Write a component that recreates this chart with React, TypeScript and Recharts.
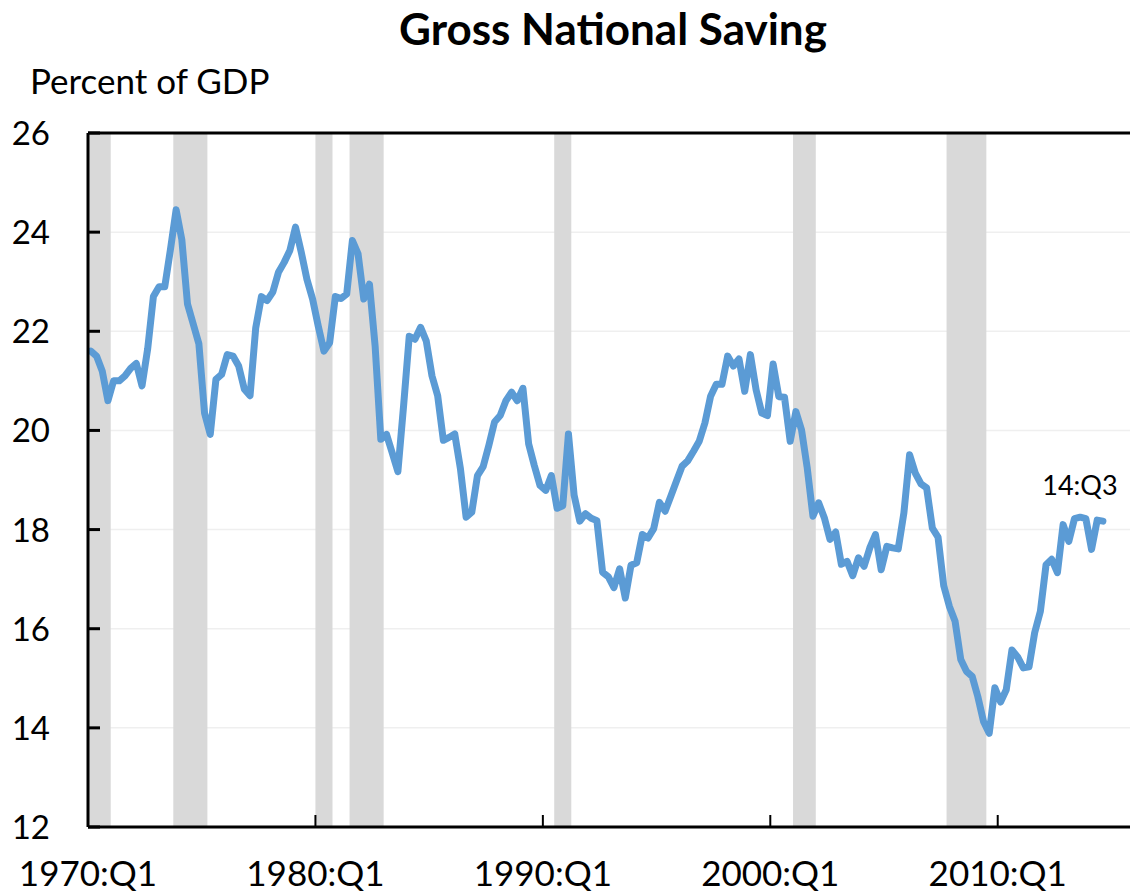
import {
  ComposedChart,
  Line,
  XAxis,
  YAxis,
  CartesianGrid,
  ReferenceArea,
  ReferenceLine,
} from "recharts";

const START_YEAR = 1970;

// gross national saving, percent of GDP, quarterly from 1970:Q1
const saving1970s = [
  21.6, 21.5, 21.2, 20.6, 21.0, 21.0, 21.1, 21.25, 21.35, 20.9,
  21.65, 22.7, 22.9, 22.9, 23.65, 24.45, 23.85, 22.55, 22.15, 21.75,
  20.35, 19.92, 21.03, 21.13, 21.53, 21.5, 21.3, 20.83, 20.7, 22.07,
  22.7, 22.62, 22.79, 23.19, 23.39, 23.63, 24.1, 23.6, 23.05, 22.65,
];
const saving1980s = [
  22.1, 21.6, 21.77, 22.7, 22.66, 22.75, 23.83, 23.56, 22.65, 22.95,
  21.7, 19.82, 19.92, 19.55, 19.17, 20.49, 21.9, 21.84, 22.08, 21.8,
  21.1, 20.7, 19.8, 19.86, 19.93, 19.23, 18.25, 18.35, 19.09, 19.27,
  19.7, 20.17, 20.3, 20.6, 20.77, 20.6, 20.85, 19.73, 19.29, 18.89,
];
const saving1990s = [
  18.79, 19.09, 18.43, 18.48, 19.93, 18.69, 18.17, 18.32, 18.23, 18.18,
  17.14, 17.05, 16.83, 17.21, 16.62, 17.28, 17.33, 17.9, 17.83, 18.02,
  18.55, 18.37, 18.67, 18.98, 19.28, 19.39, 19.58, 19.78, 20.15, 20.69,
  20.93, 20.93, 21.5, 21.3, 21.44, 20.79, 21.53, 20.82, 20.35, 20.3,
];
const saving2000s = [
  21.34, 20.68, 20.67, 19.78, 20.38, 20.01, 19.24, 18.27, 18.54, 18.24,
  17.8, 17.95, 17.3, 17.36, 17.07, 17.43, 17.26, 17.63, 17.9, 17.19,
  17.66, 17.63, 17.61, 18.34, 19.51, 19.14, 18.92, 18.84, 18.03, 17.85,
  16.87, 16.45, 16.15, 15.38, 15.14, 15.04, 14.63, 14.13, 13.89, 14.81,
];
const saving2010s = [
  14.52, 14.77, 15.57, 15.43, 15.21, 15.23, 15.92, 16.35, 17.29, 17.4,
  17.13, 18.1, 17.76, 18.22, 18.25, 18.22, 17.6, 18.19, 18.17,
];

const recessions = [
  ["1970:Q1", "1970:Q4"],
  ["1973:Q4", "1975:Q1"],
  ["1980:Q1", "1980:Q3"],
  ["1981:Q3", "1982:Q4"],
  ["1990:Q3", "1991:Q1"],
  ["2001:Q1", "2001:Q4"],
  ["2007:Q4", "2009:Q2"],
];

const xTickLabels = ["1970:Q1", "1980:Q1", "1990:Q1", "2000:Q1", "2010:Q1"];
const yTicks = [12, 14, 16, 18, 20, 22, 24, 26];
const lastLabel = "14:Q3";

const FONT = "Lato, 'Open Sans', sans-serif";

const quarterIndex = (label: string) => {
  const [y, q] = label.split(":Q");
  return (Number(y) - START_YEAR) * 4 + Number(q) - 1;
};

const values = [...saving1970s, ...saving1980s, ...saving1990s, ...saving2000s, ...saving2010s];
const data = values.map((value, i) => ({ q: i, value }));

const XTick = ({ x, y, payload }: any) => {
  const idx = xTickLabels.findIndex((l) => quarterIndex(l) - 0.5 === payload.value);
  return (
    <g>
      <line x1={x} x2={x} y1={y} y2={y - 12} stroke="#000" strokeWidth={2} />
      <text x={x} y={y + 59} textAnchor="middle" fontSize={35} fontFamily={FONT} fill="#000">
        {xTickLabels[idx]}
      </text>
    </g>
  );
};

const YTick = ({ x, y, payload }: any) => (
  <g>
    <line x1={x} x2={x + 12} y1={y} y2={y} stroke="#000" strokeWidth={3} />
    <text x={x - 38} y={y + 12} textAnchor="end" fontSize={33} fontFamily={FONT} fill="#000">
      {payload.value}
    </text>
  </g>
);

const EndLabel = (props: any) => {
  const { x, y, index } = props;
  if (index !== data.length - 1) return null;
  return (
    <text x={x - 23} y={y - 26} textAnchor="middle" fontSize={27} fontFamily={FONT} fill="#000">
      {lastLabel}
    </text>
  );
};

export default function App() {
  return (
    <div
      style={{
        position: "absolute",
        left: 0,
        top: 0,
        width: 1130,
        height: 892,
        overflow: "hidden",
        background: "#fff",
        fontFamily: FONT,
      }}
    >
      <div
        style={{
          position: "absolute",
          left: 0,
          width: 1226,
          top: 2,
          textAlign: "center",
          fontSize: 44,
          fontWeight: 700,
          lineHeight: "52px",
        }}
      >
        Gross National Saving
      </div>
      <div style={{ position: "absolute", left: 30, top: 58, fontSize: 35, lineHeight: "44px" }}>
        Percent of GDP
      </div>
      <ComposedChart
        width={1170}
        height={892}
        data={data}
        margin={{ top: 133, right: 0, bottom: 0, left: 0 }}
      >
        <CartesianGrid vertical={false} stroke="#efefef" strokeWidth={1.5} />
        {recessions.map(([a, b]) => (
          <ReferenceArea
            key={a}
            x1={quarterIndex(a) - 0.5}
            x2={quarterIndex(b) + 0.5}
            y1={12}
            y2={26}
            fill="#d9d9d9"
            fillOpacity={1}
            stroke="none"
          />
        ))}
        <XAxis
          dataKey="q"
          type="number"
          domain={[-0.5, 189.8]}
          allowDataOverflow
          ticks={xTickLabels.map((l) => quarterIndex(l) - 0.5)}
          interval={0}
          height={65}
          tickSize={0}
          tickMargin={0}
          tickLine={false}
          axisLine={{ stroke: "#000", strokeWidth: 3 }}
          tick={<XTick />}
        />
        <YAxis
          domain={[12, 26]}
          ticks={yTicks}
          interval={0}
          width={88}
          tickSize={0}
          tickMargin={0}
          tickLine={false}
          axisLine={{ stroke: "#000", strokeWidth: 3 }}
          tick={<YTick />}
        />
        <ReferenceLine y={26} stroke="#000" strokeWidth={3} />
        <Line
          type="linear"
          dataKey="value"
          stroke="#5b9bd5"
          strokeWidth={7}
          strokeLinejoin="round"
          strokeLinecap="round"
          dot={false}
          label={<EndLabel />}
          isAnimationActive={false}
        />
      </ComposedChart>
    </div>
  );
}
